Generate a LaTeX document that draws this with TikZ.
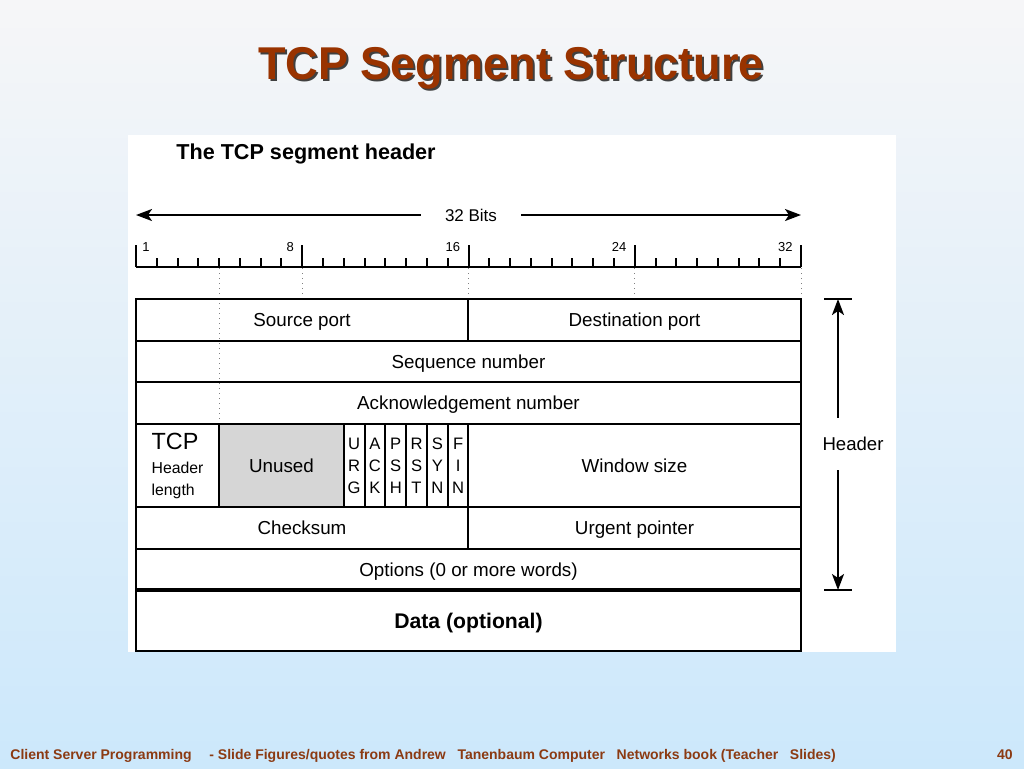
\documentclass[tikz,border=0pt]{standalone}
\usepackage{fontspec}
\setmainfont{Liberation Sans}
\newfontfamily\titlefont[FakeStretch=0.98]{Liberation Sans}
\usetikzlibrary{arrows.meta}
\definecolor{slidetop}{HTML}{F6F6F8}
\definecolor{slidebot}{HTML}{CCE8FB}
\definecolor{rust}{HTML}{993300}
\definecolor{footbrown}{HTML}{8B3A12}
\definecolor{unusedgray}{HTML}{D6D6D6}
\begin{document}
\begin{tikzpicture}[x=0.5pt,y=-0.5pt,
    cell/.style={draw,line width=1pt,inner sep=0pt,outer sep=0pt,text height=6.8pt,text depth=0pt,font=\fontsize{9.4}{11}\selectfont},
    flag/.style={cell,text height=,text depth=,align=center,minimum width=10.39pt,minimum height=41.5pt,font=\fontsize{8.3}{11}\selectfont},
    tick/.style={line width=1pt},
    guide/.style={black!50,dotted,line width=0.5pt},
    arr/.style={line width=1pt,-{Stealth[length=8pt,width=6pt,inset=2pt]}},
    rulenum/.style={inner sep=0pt,font=\fontsize{6.5}{7}\selectfont},
    foot/.style={inner sep=0pt,text=footbrown,font=\bfseries\fontsize{7}{8}\selectfont}]
  % slide background and white panel
  \shade[top color=slidetop,bottom color=slidebot] (0,0) rectangle (1024,768);
  \fill[white] (128,135) rectangle (896,652);
  % title with its shadow
  \node[anchor=base,text=black!75,font=\titlefont\bfseries\fontsize{23}{27}\selectfont] (titleshadow) at (513,81.5) {TCP Segment Structure};
  \node[anchor=base,text=rust,font=\titlefont\bfseries\fontsize{23}{27}\selectfont] (title) at (511,79) {TCP Segment Structure};
  \node[anchor=base west,inner sep=0pt,font=\bfseries\fontsize{10.8}{13}\selectfont] (caption) at (176,159) {The TCP segment header};
  % 32 bits span
  \node[inner sep=0pt,minimum width=50pt,font=\fontsize{8.5}{10}\selectfont] (bits) at (471,215) {32 Bits};
  \coordinate (bitsL) at (136,215);
  \coordinate (bitsR) at (801,215);
  \draw[arr] (bits) -- (bitsL);
  \draw[arr] (bits) -- (bitsR);
  % the ruler
  \draw[tick] (136,267) -- (801,267);
  \foreach \b in {0,...,32}{
    \pgfmathsetmacro{\th}{ifthenelse(mod(\b,8)==0,22,9)}
    \draw[tick] (136+\b*20.78125,267) -- (136+\b*20.78125,267-\th);
  }
  \node[rulenum,anchor=west] (bit1) at (142,247) {1};
  \foreach \b in {8,16,24,32}{
    \node[rulenum,anchor=east] (bit\b) at (136+\b*20.78125-8,247) {\b};
    \draw[guide] (136+\b*20.78125,268) -- (136+\b*20.78125,299);
  }
  \draw[guide] (219.1,268) -- (219.1,424);
  % header fields
  \node[cell,minimum width=166pt,minimum height=21pt] (srcport) at (302,320) {Source port};
  \node[cell,minimum width=166.5pt,minimum height=21pt] (dstport) at (634.5,320) {Destination port};
  \node[cell,minimum width=332.5pt,minimum height=20.5pt] (seqnum) at (468.5,361.5) {Sequence number};
  \node[cell,minimum width=332.5pt,minimum height=21pt] (acknum) at (468.5,403) {Acknowledgement number};
  \node[cell,text height=,text depth=,align=left,minimum width=41.55pt,minimum height=41.5pt] (hdrlen) at (177.55,465.5)
    {{\fontsize{11.7}{12}\selectfont TCP}\\[1pt]{\fontsize{7.9}{12}\selectfont Header}\\{\fontsize{7.9}{12}\selectfont length}};
  \node[cell,fill=unusedgray,minimum width=62.35pt,minimum height=41.5pt] (unused) at (281.45,465.5) {Unused};
  \foreach \i/\f in {0/{U\\R\\G},1/{A\\C\\K},2/{P\\S\\H},3/{R\\S\\T},4/{S\\Y\\N},5/{F\\I\\N}}
    \node[flag] (flag\i) at (354.19+\i*20.78125,465.5) {\f};
  \node[cell,minimum width=166.5pt,minimum height=41.5pt] (window) at (634.5,465.5) {Window size};
  \node[cell,minimum width=166pt,minimum height=21pt] (checksum) at (302,528) {Checksum};
  \node[cell,minimum width=166.5pt,minimum height=21pt] (urgent) at (634.5,528) {Urgent pointer};
  \node[cell,minimum width=332.5pt,minimum height=20.5pt] (options) at (468.5,569.5) {Options (0 or more words)};
  \node[cell,minimum width=332.5pt,minimum height=30.5pt,text height=7.7pt,font=\bfseries\fontsize{10.6}{13}\selectfont] (data) at (468.5,620.5) {Data (optional)};
  \draw[line width=2.2pt] (options.south west) -- (options.south east);
  % header extent
  \coordinate (hdrtop) at (838,299);
  \coordinate (hdrbot) at (838,590);
  \draw[tick] ([xshift=-7pt]hdrtop) -- ([xshift=7pt]hdrtop);
  \draw[tick] ([xshift=-7pt]hdrbot) -- ([xshift=7pt]hdrbot);
  \node[inner sep=0pt,minimum height=26pt,font=\fontsize{9.3}{11}\selectfont] (hdrlabel) at (853,444) {Header};
  \draw[arr] (hdrlabel.north -| hdrtop) -- (hdrtop);
  \draw[arr] (hdrlabel.south -| hdrbot) -- (hdrbot);
  % footer
  \node[foot,anchor=base west] (footl) at (10,759) {Client Server Programming};
  \node[foot,anchor=base west] (footm) at (209,759) {- Slide Figures/quotes from Andrew\ \ \ Tanenbaum Computer\ \ \ Networks book (Teacher\ \ \ Slides)};
  \node[foot,anchor=base east] (footr) at (1013,759) {40};
\end{tikzpicture}
\end{document}
